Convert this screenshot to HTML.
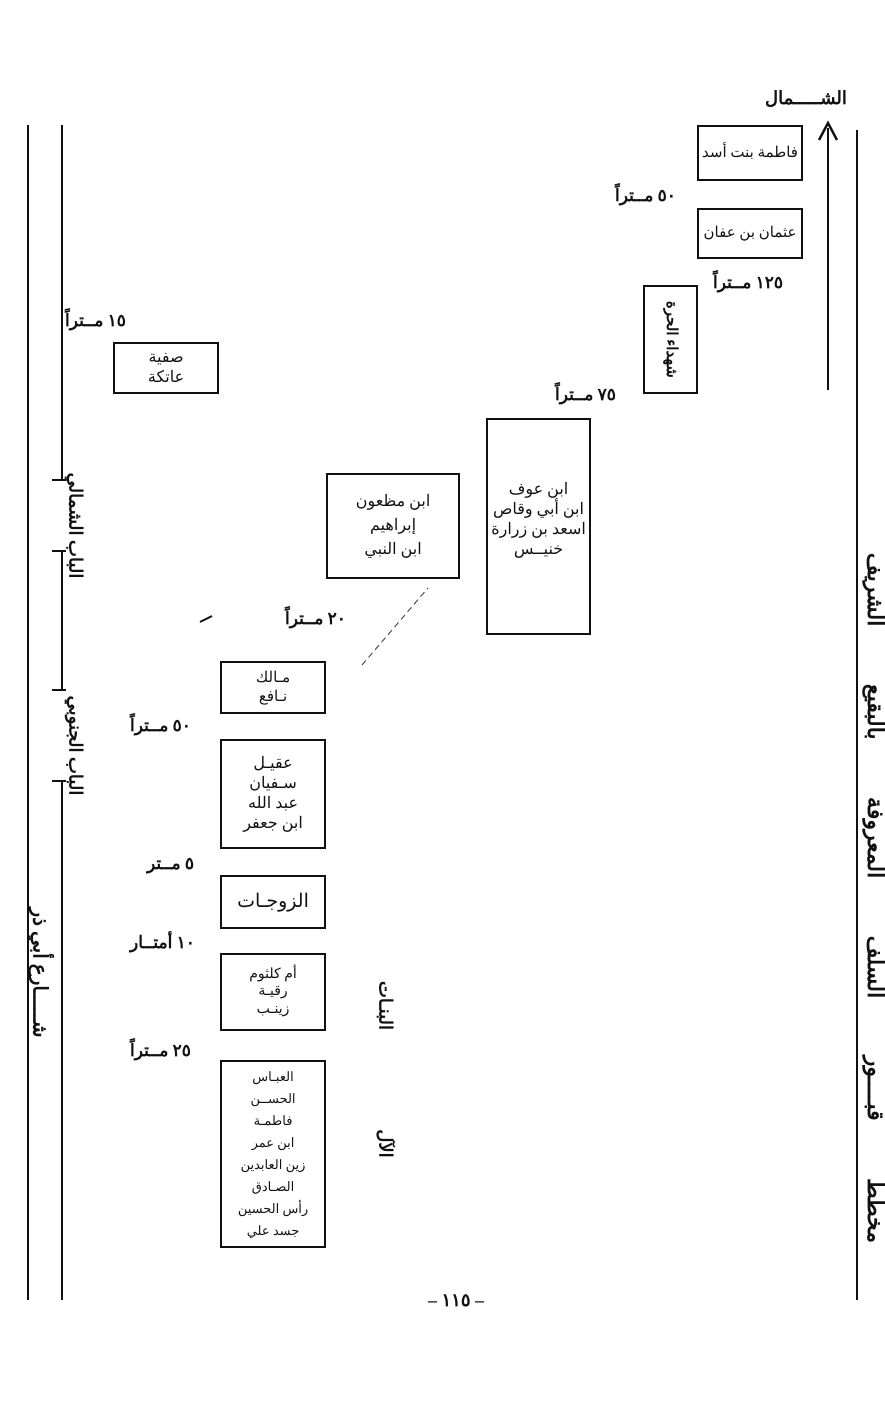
<!DOCTYPE html>
<html><head><meta charset="utf-8"><style>
body{margin:0;width:885px;height:1425px;background:#fff;position:relative;overflow:hidden;font-family:"Liberation Serif","Noto Sans CJK SC",serif;color:#111}
.a{position:absolute}
.box{position:absolute;border:2px solid #111;box-sizing:border-box;display:flex;flex-direction:column;align-items:center;justify-content:center;text-align:center;direction:rtl;line-height:1.25}
.l{position:absolute;background:#111}
.t{position:absolute;direction:rtl;font-weight:bold;font-size:17px;white-space:nowrap}
.r{position:absolute;white-space:nowrap;direction:rtl;transform:rotate(90deg);transform-origin:center;font-weight:bold}
</style></head><body>
<div class="t" style="left:765px;top:88px;font-size:18px">الشـــــمال</div>
<div class="l" style="left:827px;top:128px;width:2px;height:262px"></div>
<svg class="a" style="left:817px;top:120px" width="22" height="22"><path d="M2 20 L11 3 L20 20" fill="none" stroke="#111" stroke-width="2.5"/></svg>
<div class="l" style="left:856px;top:130px;width:2px;height:1170px"></div>
<div class="r" style="left:475px;top:885px;width:800px;text-align:center;font-size:22px;word-spacing:52px">مخطط قبــــور السلف المعروفة بالبقيع الشريف</div>

<div class="l" style="left:27px;top:125px;width:2px;height:1175px"></div>
<div class="l" style="left:61px;top:125px;width:2px;height:355px"></div>
<div class="l" style="left:52px;top:479px;width:14px;height:2px"></div>
<div class="l" style="left:61px;top:550px;width:2px;height:140px"></div>
<div class="l" style="left:52px;top:550px;width:14px;height:2px"></div>
<div class="l" style="left:52px;top:689px;width:14px;height:2px"></div>
<div class="l" style="left:61px;top:780px;width:2px;height:520px"></div>
<div class="l" style="left:52px;top:780px;width:14px;height:2px"></div>
<div class="r" style="left:15px;top:515px;width:120px;text-align:center;font-size:18px">الباب الشمالي</div>
<div class="r" style="left:20px;top:735px;width:110px;text-align:center;font-size:18px">الباب الجنوبي</div>
<div class="r" style="left:-45px;top:960px;width:170px;text-align:center;font-size:20px">شـــــارع أبي ذر</div>

<div class="box" style="left:697px;top:125px;width:106px;height:56px;font-size:15px">فاطمة بنت أسد</div>
<div class="box" style="left:697px;top:208px;width:106px;height:51px;font-size:15px">عثمان بن عفان</div>
<div class="box" style="left:643px;top:285px;width:55px;height:109px"><div style="transform:rotate(90deg);white-space:nowrap;font-size:15px;font-weight:bold">شهداء الحرة</div></div>
<div class="box" style="left:486px;top:418px;width:105px;height:217px;justify-content:flex-start;padding-top:60px;font-size:16px">ابن عوف<br>ابن أبي وقاص<br>اسعد بن زرارة<br>خنيــس</div>
<div class="box" style="left:326px;top:473px;width:134px;height:106px;font-size:16px;line-height:1.5">ابن مظعون<br>إبراهيم<br>ابن النبي</div>
<div class="box" style="left:113px;top:342px;width:106px;height:52px;font-size:16px">صفية<br>عاتكة</div>
<div class="box" style="left:220px;top:661px;width:106px;height:53px;font-size:15px">مـالك<br>نـافع</div>
<div class="box" style="left:220px;top:739px;width:106px;height:110px;font-size:16px">عقيـل<br>سـفيان<br>عبد الله<br>ابن جعفر</div>
<div class="box" style="left:220px;top:875px;width:106px;height:54px;font-size:19px">الزوجـات</div>
<div class="box" style="left:220px;top:953px;width:106px;height:78px;font-size:14px">أم كلثوم<br>رقيـة<br>زينـب</div>
<div class="box" style="left:220px;top:1060px;width:106px;height:188px;font-size:13px;line-height:1.7">العبـاس<br>الحســن<br>فاطمـة<br>ابن عمر<br>زين العابدين<br>الصـادق<br>رأس الحسين<br>جسد علي</div>

<div class="t" style="left:615px;top:186px">٥٠ مــتراً</div>
<div class="t" style="left:713px;top:273px">١٢٥ مــتراً</div>
<div class="t" style="left:555px;top:385px">٧٥ مــتراً</div>
<div class="t" style="left:65px;top:311px">١٥ مــتراً</div>
<div class="t" style="left:285px;top:609px">٢٠ مــتراً</div>
<div class="t" style="left:130px;top:716px">٥٠ مــتراً</div>
<div class="t" style="left:147px;top:854px">٥ مــتر</div>
<div class="t" style="left:130px;top:933px">١٠ أمتــار</div>
<div class="t" style="left:130px;top:1041px">٢٥ مــتراً</div>
<div class="r" style="left:355px;top:995px;width:60px;text-align:center;font-size:18px">البنـات</div>
<div class="r" style="left:365px;top:1133px;width:40px;text-align:center;font-size:18px">الآل</div>
<svg class="a" style="left:0;top:0" width="885" height="1425">
<path d="M362 665 L428 588" stroke="#333" stroke-width="1" stroke-dasharray="6 4"/>
<path d="M200 622 L212 616" stroke="#111" stroke-width="2"/>
</svg>
<div class="t" style="left:428px;top:1290px;font-size:18px">– ١١٥ –</div>
</body></html>
